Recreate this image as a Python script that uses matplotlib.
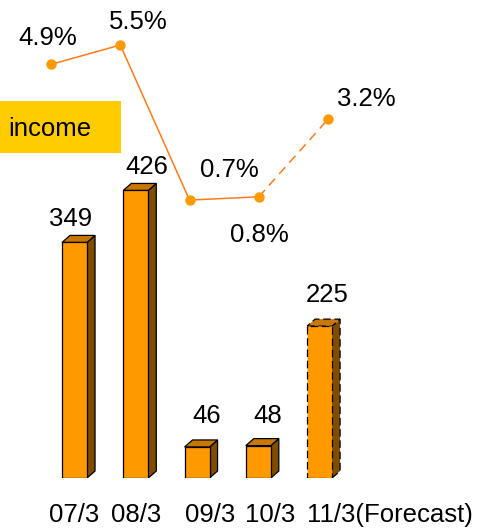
import matplotlib
matplotlib.use("Agg")
import matplotlib.pyplot as plt
from matplotlib.patches import Polygon, Rectangle

plt.rcParams['font.family'] = ['Liberation Sans', 'DejaVu Sans']

categories = ["07/3", "08/3", "09/3", "10/3", "11/3(Forecast)"]
income = [349, 426, 46, 48, 225]
margin = [4.9, 5.5, 0.7, 0.8, 3.2]
margin_labels = ["4.9%", "5.5%", "0.7%", "0.8%", "3.2%"]
forecast = [False, False, False, False, True]

# style / layout (pixel offsets)
bar_label_offsets = [(-4, 23), (11, 23), (10, 31), (9, 30), (8, 31)]
pct_label_offsets = [(-3, 26), (18, 23), (40, 30), (1, -38), (38, 20)]
cat_x_offsets = [0, 0, 13, 12, None]

FS = 18.5
W, H = 481, 528
fig = plt.figure(figsize=(W / 100, H / 100), dpi=100)

# ---- bar axes ----
ax = fig.add_axes([43.9 / W, (H - 478) / H, 306.3 / W, 472.5 / H])
ax.set_xlim(-0.5, 4.5)
ax.set_ylim(0, 700)
ax.axis('off')

bw = 25 / 61.25
dx = 8 / 61.25
dy = 7 / 0.675
front_c = '#FF9900'
top_c = '#C87800'
side_c = '#7F4C00'
for i, (v, fc) in enumerate(zip(income, forecast)):
    ls = (0, (6, 3)) if fc else '-'
    l, r = i - bw / 2, i + bw / 2
    side = Polygon([(r, 0), (r + dx, dy), (r + dx, v + dy), (r, v)], closed=True,
                   facecolor=side_c, edgecolor='black', lw=0.9, linestyle=ls)
    top = Polygon([(l, v), (r, v), (r + dx, v + dy), (l + dx, v + dy)], closed=True,
                  facecolor=top_c, edgecolor='black', lw=0.9, linestyle=ls)
    front = Rectangle((l, 0), bw, v, facecolor=front_c, edgecolor='black', lw=0.9,
                      linestyle=ls)
    for p in (side, top, front):
        ax.add_patch(p)
    ox, oy = bar_label_offsets[i]
    ax.annotate(str(v), (i, v), xytext=(ox, oy), textcoords='offset pixels',
                ha='center', va='center', fontsize=FS, color='black')
    # category labels
    xo = cat_x_offsets[i]
    if xo is None:
        ax.annotate(categories[i], (l, 0), xytext=(0, -37), textcoords='offset pixels',
                    ha='left', va='center', fontsize=FS, annotation_clip=False)
    else:
        ax.annotate(categories[i], (i, 0), xytext=(xo, -37), textcoords='offset pixels',
                    ha='center', va='center', fontsize=FS, annotation_clip=False)

# ---- line axes ----
ax2 = fig.add_axes([16.4 / W, (H - 252.8) / H, 346.25 / W, 240 / H])
ax2.set_xlim(-0.5, 4.5)
ax2.set_ylim(-0.933, 6.497)
ax2.axis('off')
ax2.patch.set_alpha(0)
xs = list(range(len(margin)))
line_c = '#FF7A1A'
ax2.plot(xs[:4], margin[:4], color=line_c, lw=1.1)
ax2.plot(xs[3:], margin[3:], color=line_c, lw=1.1, dashes=(6, 4))
ax2.plot(xs, margin, 'o', color='#FF9900', ms=6.5, mec='#FF9900')
for i, (v, t) in enumerate(zip(margin, margin_labels)):
    ox, oy = pct_label_offsets[i]
    ax2.annotate(t, (i, v), xytext=(ox, oy), textcoords='offset pixels',
                 ha='center', va='center', fontsize=FS, color='black',
                 annotation_clip=False)

# ---- legend-like box ----
fig.patches.append(Rectangle((0, (H - 153) / H), 121 / W, 52 / H,
                             transform=fig.transFigure, facecolor='#FFCC00',
                             edgecolor='none'))
fig.text(8 / W, (H - 129) / H, "income", fontsize=FS, ha='left', va='center')

fig.savefig("out.png", dpi=100)
